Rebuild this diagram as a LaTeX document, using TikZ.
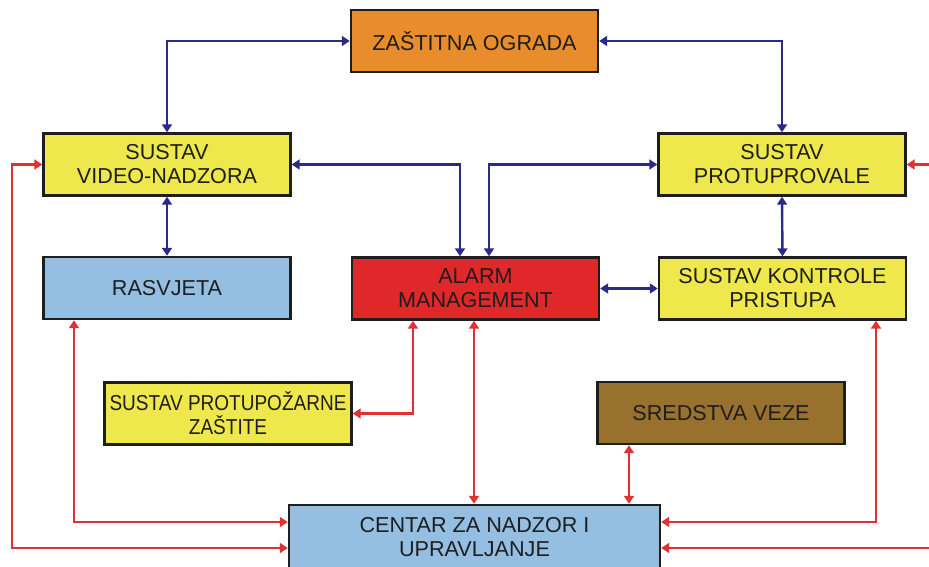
\documentclass[tikz,border=0pt]{standalone}
\usepackage{fontspec}
\setmainfont{Liberation Sans}
\usetikzlibrary{arrows.meta}
\definecolor{cyel}{HTML}{EEE84C}
\definecolor{cblu}{HTML}{94BFE2}
\definecolor{corg}{HTML}{E98C2C}
\definecolor{cred}{HTML}{E0282A}
\definecolor{cbrn}{HTML}{98712F}
\definecolor{lblu}{HTML}{2A2A88}
\definecolor{lred}{HTML}{E03232}
\definecolor{ctxt}{HTML}{1E1E1E}
\tikzset{
  box/.style={draw=ctxt, line width=2.4pt, minimum width=247pt, minimum height=62pt,
    inner sep=0pt, align=center, text=ctxt, font=\fontsize{21.6}{24}\selectfont},
  bl/.style={draw=lblu, line width=2.4pt, {Triangle[length=8pt,width=10pt]}-{Triangle[length=8pt,width=10pt]}},
  rd/.style={draw=lred, line width=2.2pt, {Triangle[length=8pt,width=10pt]}-{Triangle[length=8pt,width=10pt]}},
  rdone/.style={draw=lred, line width=2.2pt, -{Triangle[length=8pt,width=10pt]}}
}
\begin{document}
\begin{tikzpicture}[x=1pt,y=-1pt]
\path[use as bounding box, clip] (0,0) rectangle (929,567);
\node[box, fill=corg] (zast) at (474.5,41) {ZAŠTITNA OGRADA};
\node[box, fill=cyel] (video) at (167,164.5) {SUSTAV\\VIDEO-NADZORA};
\node[box, fill=cblu] (rasv) at (167,288) {RASVJETA};
\node[box, fill=cred] (alarm) at (475.5,288.5) {ALARM\\MANAGEMENT};
\node[box, fill=cyel] (protup) at (782,164.5) {SUSTAV\\PROTUPROVALE};
\node[box, fill=cyel] (kontr) at (782.5,288.5) {SUSTAV KONTROLE\\PRISTUPA};
\node[box, fill=cyel] (pozar) at (228,413.5) {\scalebox{0.88}[1]{SUSTAV PROTUPOŽARNE}\\\scalebox{0.88}[1]{ZAŠTITE}};
\node[box, fill=cbrn] (sred) at (721,413) {SREDSTVA VEZE};
\node[box, fill=cblu, minimum width=371pt, minimum height=64pt] (centar) at (474.5,537) {CENTAR ZA NADZOR I\\UPRAVLJANJE};
% blue connectors
\draw[bl] (zast.west) -| (video.north);
\draw[bl] (zast.east) -| (protup.north);
\draw[bl] (video.east) -| ([xshift=-15.5pt]alarm.north);
\draw[bl] (protup.west) -| ([xshift=13.5pt]alarm.north);
\draw[bl] (video.south) -- (rasv.north);
\draw[bl] (protup.south) -- (kontr.north);
\draw[bl] (alarm.east) -- (kontr.west);
% red connectors
\coordinate (lc) at (12,548);
\coordinate (r1) at (930,164.5);
\coordinate (r2) at (930,548);
\draw[rd] (video.west) -| (lc) -- ([yshift=-11pt]centar.west);
\draw[rd] ([xshift=-93pt]rasv.south) |- ([yshift=15pt]centar.west);
\draw[rd] ([xshift=-62.5pt]alarm.south) |- (pozar.east);
\draw[rd] ([xshift=-1.5pt]alarm.south) -- ([xshift=-1.5pt]alarm.south |- centar.north);
\draw[rd] ([xshift=-92pt]sred.south) -- ([xshift=-92pt]sred.south |- centar.north);
\draw[rd] ([xshift=93.5pt]kontr.south) |- ([yshift=15pt]centar.east);
\draw[rdone] (r1) -- (protup.east);
\draw[rdone] (r2) -- ([yshift=-11pt]centar.east);
\end{tikzpicture}
\end{document}
